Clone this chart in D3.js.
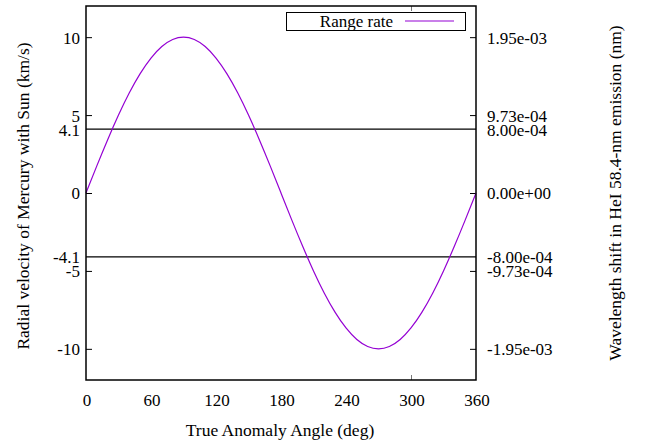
<!DOCTYPE html>
<html>
<head>
<meta charset="utf-8">
<script src="https://cdn.jsdelivr.net/npm/d3@7"></script>
<style>
  body { margin: 0; background: #fff; }
  svg text { font-family: "Liberation Serif", "Times New Roman", serif; fill: #000; }
</style>
</head>
<body>
<div id="vis1"></div>
<script>
// true anomaly angle (deg) and range rate (km/s)
var angles = [0, 10, 20, 30, 40, 50, 60, 70, 80, 90, 100, 110, 120, 130, 140, 150, 160, 170, 180,
              190, 200, 210, 220, 230, 240, 250, 260, 270, 280, 290, 300, 310, 320, 330, 340, 350, 360];
var rangeRate = [0, 1.74, 3.42, 5.0, 6.43, 7.66, 8.66, 9.4, 9.85, 10, 9.85, 9.4, 8.66, 7.66, 6.43, 5.0, 3.42, 1.74, 0,
                 -1.74, -3.42, -5.0, -6.43, -7.66, -8.66, -9.4, -9.85, -10, -9.85, -9.4, -8.66, -7.66, -6.43, -5.0, -3.42, -1.74, 0];

var xTicks = [0, 60, 120, 180, 240, 300, 360];
var xTickMarks = [300];
var yTicks = [10, 5, 0, -5, -10];
var yMarkers = [4.1, -4.1];
var rightTickValues = [10, 5, 0, -5, -10];
var rightTickLabels = ["1.95e-03", "9.73e-04", "0.00e+00", "-9.73e-04", "-1.95e-03"];
var rightMarkerLabels = ["8.00e-04", "-8.00e-04"];

var width = 646, height = 441;
var plotLeft = 86, plotRight = 476, plotTop = 6, plotBottom = 380;
var lineColor = "#9400d3";

var svg = d3.select("#vis1").append("svg")
    .attr("width", width)
    .attr("height", height);

var xScale = d3.scaleLinear().domain([0, 360]).range([plotLeft, plotRight]);
var yScale = d3.scaleLinear().domain([-12, 12]).range([plotBottom, plotTop]);

var data = angles.map(function(a, i) { return {x: a, y: rangeRate[i]}; });

// left ticks
svg.append("g")
    .attr("transform", "translate(" + plotLeft + ",0)")
    .call(d3.axisRight(yScale).tickValues(yTicks).tickSize(6).tickFormat(""))
    .call(function(g) { g.select(".domain").remove(); });

// right ticks
svg.append("g")
    .attr("transform", "translate(" + plotRight + ",0)")
    .call(d3.axisLeft(yScale).tickValues(rightTickValues).tickSize(6).tickFormat(""))
    .call(function(g) { g.select(".domain").remove(); });

// x tick marks (only the one visible in the plot)
svg.append("g")
    .attr("transform", "translate(0," + plotBottom + ")")
    .call(d3.axisTop(xScale).tickValues(xTickMarks).tickSize(5).tickFormat(""))
    .call(function(g) { g.select(".domain").remove(); g.selectAll("line").attr("stroke", "#777"); });
svg.append("g")
    .attr("transform", "translate(0," + plotTop + ")")
    .call(d3.axisBottom(xScale).tickValues(xTickMarks).tickSize(5).tickFormat(""))
    .call(function(g) { g.select(".domain").remove(); g.selectAll("line").attr("stroke", "#777"); });

// tick labels
svg.append("g").selectAll("text")
    .data(xTicks).enter().append("text")
    .attr("x", function(d) { return xScale(d) + 1; })
    .attr("y", 406)
    .attr("text-anchor", "middle")
    .style("font-size", "17px")
    .text(function(d) { return d; });

svg.append("g").selectAll("text")
    .data(yTicks.concat(yMarkers)).enter().append("text")
    .attr("x", 80)
    .attr("y", function(d) { return yScale(d); })
    .attr("dy", "0.38em")
    .attr("text-anchor", "end")
    .style("font-size", "17px")
    .text(function(d) { return d; });

svg.append("g").selectAll("text")
    .data(rightTickValues).enter().append("text")
    .attr("x", 487)
    .attr("y", function(d) { return yScale(d); })
    .attr("dy", "0.38em")
    .style("font-size", "17px")
    .text(function(d, i) { return rightTickLabels[i]; });

svg.append("g").selectAll("text")
    .data(yMarkers).enter().append("text")
    .attr("x", 487)
    .attr("y", function(d) { return yScale(d); })
    .attr("dy", "0.38em")
    .style("font-size", "17px")
    .text(function(d, i) { return rightMarkerLabels[i]; });

// horizontal lines at +-4.1
svg.append("g").selectAll("line")
    .data(yMarkers).enter().append("line")
    .attr("x1", plotLeft).attr("x2", plotRight)
    .attr("y1", function(d) { return yScale(d); })
    .attr("y2", function(d) { return yScale(d); })
    .attr("stroke", "#000")
    .attr("stroke-width", 1.2);

// the curve
var line = d3.line()
    .x(function(d) { return xScale(d.x); })
    .y(function(d) { return yScale(d.y); })
    .curve(d3.curveNatural);

svg.append("path")
    .datum(data)
    .attr("fill", "none")
    .attr("stroke", lineColor)
    .attr("stroke-width", 1.2)
    .attr("d", line);

// frame
svg.append("rect")
    .attr("x", plotLeft).attr("y", plotTop)
    .attr("width", plotRight - plotLeft).attr("height", plotBottom - plotTop)
    .attr("fill", "none")
    .attr("stroke", "#000")
    .attr("stroke-width", 1.5);

// legend
svg.append("rect")
    .attr("x", 286.5).attr("y", 12.5)
    .attr("width", 179).attr("height", 18)
    .attr("fill", "#fff")
    .attr("stroke", "#000")
    .attr("stroke-width", 1);
svg.append("text")
    .attr("x", 393).attr("y", 27)
    .attr("text-anchor", "end")
    .style("font-size", "17px")
    .text("Range rate");
svg.append("line")
    .attr("x1", 405).attr("x2", 454)
    .attr("y1", 21).attr("y2", 21)
    .attr("stroke", lineColor)
    .attr("stroke-width", 1.2);

// axis labels
svg.append("text")
    .attr("x", 280).attr("y", 436)
    .attr("text-anchor", "middle")
    .style("font-size", "17.5px")
    .text("True Anomaly Angle (deg)");

svg.append("text")
    .attr("transform", "translate(29,196) rotate(-90)")
    .attr("text-anchor", "middle")
    .style("font-size", "17.5px")
    .text("Radial velocity of Mercury with Sun (km/s)");

svg.append("text")
    .attr("transform", "translate(621,193) rotate(-90)")
    .attr("text-anchor", "middle")
    .style("font-size", "17.5px")
    .text("Wavelength shift in HeI 58.4-nm emission (nm)");
</script>
</body>
</html>
